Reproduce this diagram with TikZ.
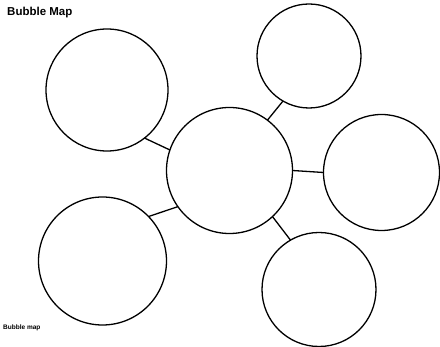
\documentclass[tikz,border=0pt]{standalone}
\usepackage{fontspec}
\setmainfont{Liberation Sans}
\begin{document}
\begin{tikzpicture}[x=1pt,y=-1pt,
  bubble/.style={circle,draw,line width=1.3pt,inner sep=0pt,outer sep=0pt},
  link/.style={line width=1.3pt}]
\useasboundingbox (0,0) rectangle (440,347);
\node[anchor=west,inner sep=0pt,font=\bfseries\fontsize{11.5}{14}\selectfont] (title) at (7,13) {Bubble Map};
\node[anchor=west,inner sep=0pt,font=\bfseries\fontsize{6.5}{8}\selectfont] (foot) at (3,327.5) {Bubble map};
\node[bubble,minimum size=126pt] (c) at (229.5,170.5) {};
\node[bubble,minimum size=122pt] (tl) at (107,90) {};
\node[bubble,minimum size=104pt] (tr) at (309,56) {};
\node[bubble,minimum size=116pt] (r) at (381.5,172.5) {};
\node[bubble,minimum size=128pt] (bl) at (102.5,261) {};
\node[bubble,minimum size=114pt] (br) at (319,289.5) {};
\draw[link] (c.161) -- (tl.-52);
\draw[link] (c.53) -- (tr.-120);
\draw[link] (c.0) -- (r.180);
\draw[link] (c.215) -- (bl.44);
\draw[link] (c.-47) -- (br.120);
\end{tikzpicture}
\end{document}
